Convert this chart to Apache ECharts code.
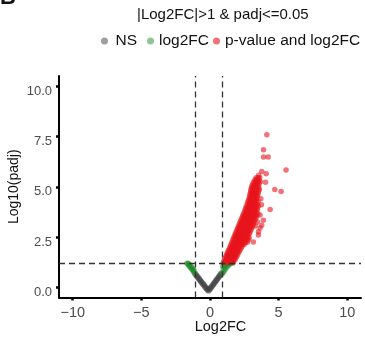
<!DOCTYPE html>
<html>
<head>
<meta charset="utf-8">
<script src="https://cdn.jsdelivr.net/npm/echarts@6/dist/echarts.min.js"></script>
<style>
  html, body { margin: 0; padding: 0; background: #fff; }
  #chart { width: 365px; height: 337px; }
</style>
</head>
<body>
<div id="chart"></div>
<script>
// volcano plot, values
const X_TICKS = [-10, -5, 0, 5, 10];
const Y_TICKS = [0, 2.5, 5, 7.5, 10];
const FC_CUTS = [-1.1, 0.9];
const PADJ_CUT = 1.2;

const NS_POINTS = [
  [-1.08, 0.68], [-1.02, 0.62], [-0.96, 0.57], [-0.9, 0.52], [-0.84, 0.46], [-0.78, 0.41],
  [-0.72, 0.36], [-0.66, 0.3], [-0.6, 0.25], [-0.54, 0.2], [-0.48, 0.14], [-0.42, 0.09],
  [-0.36, 0.04], [-0.3, -0.02], [-0.24, -0.07], [-0.18, -0.12], [-0.12, -0.16], [-0.06, -0.12],
  [0.0, -0.07], [0.06, -0.01], [0.12, 0.04], [0.18, 0.1], [0.24, 0.15], [0.3, 0.21],
  [0.36, 0.26], [0.42, 0.32], [0.48, 0.37], [0.54, 0.43], [0.6, 0.48], [0.66, 0.54],
  [0.72, 0.59], [0.78, 0.65], [0.84, 0.7]
];

const FC_POINTS = [
  [-1.68, 1.2], [-1.62, 1.16], [-1.56, 1.1], [-1.5, 1.05], [-1.44, 1.0], [-1.38, 0.95],
  [-1.32, 0.9], [-1.26, 0.84], [-1.2, 0.78], [-1.14, 0.72], [-1.6, 1.2], [-1.5, 1.15],
  [-1.4, 1.06], [-1.3, 1.0], [-1.22, 0.92], [-1.15, 0.84],
  [0.9, 0.68], [0.98, 0.76], [1.06, 0.84], [1.14, 0.92], [1.22, 1.0], [1.3, 1.07],
  [1.38, 1.13], [1.46, 1.18], [1.56, 1.2], [1.66, 1.2], [0.96, 0.9], [1.04, 1.0],
  [1.1, 1.1], [1.2, 1.18], [1.0, 1.18], [1.3, 1.18], [1.4, 1.2], [0.92, 1.05]
];

const SIG_POINTS = [
  [0.98, 1.25], [1.1, 1.25], [1.22, 1.25], [1.35, 1.25], [1.48, 1.25], [1.6, 1.25], [1.7, 1.25],
  [1.04, 1.35], [1.16, 1.35], [1.28, 1.35], [1.41, 1.35], [1.54, 1.35], [1.67, 1.35], [1.8, 1.35],
  [1.1, 1.45], [1.22, 1.45], [1.35, 1.45], [1.48, 1.45], [1.6, 1.45], [1.75, 1.45], [1.88, 1.45],
  [1.16, 1.55], [1.29, 1.55], [1.42, 1.55], [1.55, 1.55], [1.68, 1.55], [1.82, 1.55], [1.95, 1.55],
  [1.22, 1.65], [1.35, 1.65], [1.48, 1.65], [1.62, 1.65], [1.76, 1.65], [1.9, 1.65], [2.02, 1.65],
  [1.28, 1.75], [1.42, 1.75], [1.55, 1.75], [1.69, 1.75], [1.83, 1.75], [1.97, 1.75], [2.1, 1.75],
  [1.35, 1.85], [1.48, 1.85], [1.62, 1.85], [1.76, 1.85], [1.9, 1.85], [2.05, 1.85], [2.18, 1.85],
  [1.42, 1.95], [1.55, 1.95], [1.69, 1.95], [1.83, 1.95], [1.97, 1.95], [2.12, 1.95], [2.26, 1.95],
  [1.48, 2.05], [1.62, 2.05], [1.76, 2.05], [1.9, 2.05], [2.05, 2.05], [2.2, 2.05], [2.34, 2.05],
  [1.54, 2.15], [1.68, 2.15], [1.82, 2.15], [1.96, 2.15], [2.1, 2.15], [2.24, 2.15], [2.38, 2.15], [2.5, 2.15],
  [1.6, 2.25], [1.74, 2.25], [1.88, 2.25], [2.02, 2.25], [2.16, 2.25], [2.3, 2.25], [2.45, 2.25], [2.58, 2.25], [2.72, 2.25],
  [1.66, 2.35], [1.8, 2.35], [1.94, 2.35], [2.08, 2.35], [2.22, 2.35], [2.36, 2.35], [2.5, 2.35], [2.64, 2.35], [2.78, 2.35],
  [1.72, 2.45], [1.86, 2.45], [2.0, 2.45], [2.14, 2.45], [2.28, 2.45], [2.42, 2.45], [2.56, 2.45], [2.72, 2.45], [2.86, 2.45],
  [1.78, 2.55], [1.92, 2.55], [2.06, 2.55], [2.2, 2.55], [2.34, 2.55], [2.48, 2.55], [2.62, 2.55], [2.78, 2.55],
  [1.84, 2.65], [1.98, 2.65], [2.12, 2.65], [2.26, 2.65], [2.4, 2.65], [2.55, 2.65], [2.7, 2.65], [2.86, 2.65],
  [1.9, 2.75], [2.04, 2.75], [2.18, 2.75], [2.32, 2.75], [2.46, 2.75], [2.6, 2.75], [2.76, 2.75], [2.92, 2.75],
  [1.96, 2.85], [2.1, 2.85], [2.24, 2.85], [2.38, 2.85], [2.52, 2.85], [2.66, 2.85], [2.82, 2.85], [2.98, 2.85],
  [2.02, 2.95], [2.16, 2.95], [2.3, 2.95], [2.44, 2.95], [2.58, 2.95], [2.72, 2.95], [2.88, 2.95], [3.04, 2.95],
  [2.08, 3.05], [2.22, 3.05], [2.36, 3.05], [2.5, 3.05], [2.64, 3.05], [2.8, 3.05], [2.95, 3.05], [3.1, 3.05], [3.3, 3.05],
  [2.14, 3.15], [2.28, 3.15], [2.42, 3.15], [2.56, 3.15], [2.7, 3.15], [2.86, 3.15], [3.0, 3.15], [3.16, 3.15],
  [2.2, 3.25], [2.34, 3.25], [2.48, 3.25], [2.62, 3.25], [2.76, 3.25], [2.9, 3.25], [3.05, 3.25], [3.2, 3.25], [3.45, 3.25],
  [2.26, 3.35], [2.4, 3.35], [2.54, 3.35], [2.68, 3.35], [2.82, 3.35], [2.96, 3.35], [3.1, 3.35], [3.26, 3.35],
  [2.32, 3.45], [2.46, 3.45], [2.6, 3.45], [2.74, 3.45], [2.88, 3.45], [3.02, 3.45], [3.18, 3.45], [3.35, 3.45],
  [2.38, 3.55], [2.52, 3.55], [2.66, 3.55], [2.8, 3.55], [2.94, 3.55], [3.08, 3.55], [3.24, 3.55], [3.4, 3.55],
  [2.44, 3.65], [2.58, 3.65], [2.72, 3.65], [2.86, 3.65], [3.0, 3.65], [3.14, 3.65], [3.3, 3.65], [3.48, 3.65],
  [2.5, 3.75], [2.64, 3.75], [2.78, 3.75], [2.92, 3.75], [3.06, 3.75], [3.2, 3.75], [3.36, 3.75],
  [2.56, 3.85], [2.7, 3.85], [2.84, 3.85], [2.98, 3.85], [3.12, 3.85], [3.28, 3.85], [3.45, 3.85],
  [2.6, 3.95], [2.74, 3.95], [2.88, 3.95], [3.02, 3.95], [3.16, 3.95], [3.3, 3.95], [3.45, 3.95],
  [2.66, 4.05], [2.8, 4.05], [2.94, 4.05], [3.08, 4.05], [3.22, 4.05], [3.38, 4.05], [3.52, 4.05],
  [2.72, 4.15], [2.86, 4.15], [3.0, 4.15], [3.14, 4.15], [3.28, 4.15], [3.44, 4.15],
  [2.76, 4.25], [2.9, 4.25], [3.04, 4.25], [3.18, 4.25], [3.32, 4.25], [3.5, 4.25],
  [2.82, 4.35], [2.96, 4.35], [3.1, 4.35], [3.24, 4.35], [3.38, 4.35],
  [2.86, 4.45], [3.0, 4.45], [3.14, 4.45], [3.28, 4.45], [3.42, 4.45],
  [2.9, 4.55], [3.04, 4.55], [3.18, 4.55], [3.32, 4.55], [3.46, 4.55],
  [2.92, 4.65], [3.06, 4.65], [3.2, 4.65], [3.34, 4.65], [3.5, 4.65],
  [2.96, 4.75], [3.1, 4.75], [3.24, 4.75], [3.38, 4.75], [3.52, 4.75],
  [2.98, 4.85], [3.12, 4.85], [3.26, 4.85], [3.4, 4.85], [3.6, 4.85],
  [3.02, 4.95], [3.16, 4.95], [3.3, 4.95], [3.44, 4.95], [3.56, 4.95],
  [3.05, 5.05], [3.2, 5.05], [3.34, 5.05], [3.5, 5.05],
  [3.12, 5.15], [3.27, 5.15], [3.42, 5.15], [3.58, 5.15],
  [3.2, 5.25], [3.34, 5.25], [3.5, 5.25], [3.66, 5.25],
  [3.28, 5.35], [3.42, 5.35], [3.56, 5.35],
  [3.36, 5.45], [3.5, 5.45], [3.62, 5.45],
  // stragglers
  [4.14, 7.58], [3.9, 6.84], [3.9, 6.48], [4.24, 6.48], [5.54, 5.83], [3.77, 5.76],
  [4.09, 5.65], [3.55, 5.57], [4.72, 4.86], [5.18, 4.77], [4.04, 5.22], [4.38, 3.87],
  [3.89, 3.34], [3.77, 3.09], [3.53, 2.76], [3.16, 2.26], [3.7, 4.4], [3.75, 4.1],
  [3.65, 3.6], [3.65, 2.95], [3.53, 2.6]
];

const SERIES = [
  { name: 'NS', data: NS_POINTS, color: '#3f3f3f', size: 6, alpha: 0.5 },
  { name: 'log2FC', data: FC_POINTS, color: '#1f8c2a', size: 5.5, alpha: 0.5 },
  { name: 'p-value and log2FC', data: SIG_POINTS, color: '#e8141c', size: 5.5, alpha: 0.6 }
];

const FONT = '"Liberation Sans", Arial, sans-serif';
const fmtMinus = (v) => (v < 0 ? '\u2212' + Math.abs(v) : String(v));

const chart = echarts.init(document.getElementById('chart'));

const legendAt = (name, left, iconW) => ({
  data: [name],
  left: left,
  top: 33,
  padding: 0,
  icon: 'circle',
  itemWidth: iconW,
  itemHeight: 7,
  selectedMode: false,
  textStyle: { fontFamily: FONT, fontSize: 15.5, color: '#111' }
});

chart.setOption({
  animation: false,
  backgroundColor: '#fff',
  graphic: [
    { type: 'text', left: 0, top: -13, style: { text: 'B', font: 'bold 22px ' + FONT, fill: '#111' } }
  ],
  title: {
    text: '|Log2FC|>1 & padj<=0.05',
    left: 137,
    top: 7,
    padding: 0,
    textStyle: { fontFamily: FONT, fontSize: 15, fontWeight: 'normal', color: '#111' }
  },
  legend: [
    legendAt('NS', 101, 12),
    legendAt('log2FC', 147, 7),
    legendAt('p-value and log2FC', 213, 7)
  ],
  grid: { left: 59, right: 4, top: 76, bottom: 39.5, outerBoundsMode: 'none', containLabel: false },
  xAxis: {
    type: 'value',
    min: -11,
    max: 11,
    name: 'Log2FC',
    nameLocation: 'middle',
    nameGap: 22,
    nameMoveOverlap: false,
    nameTextStyle: { fontFamily: FONT, fontSize: 14.5, color: '#111', padding: [0, 0, 0, 21] },
    axisLine: { show: true, onZero: false, lineStyle: { color: '#000', width: 2 } },
    axisTick: { show: true, customValues: X_TICKS, length: 3, lineStyle: { color: '#000', width: 2.5 } },
    axisLabel: { customValues: X_TICKS, margin: 8, fontFamily: FONT, fontSize: 14.5, color: '#4d4d4d', formatter: fmtMinus },
    splitLine: { show: false }
  },
  yAxis: {
    type: 'value',
    min: -0.5,
    max: 10.5,
    name: 'Log10(padj)',
    nameLocation: 'middle',
    nameGap: 38,
    nameMoveOverlap: false,
    nameTextStyle: { fontFamily: FONT, fontSize: 14, color: '#111' },
    axisLine: { show: true, onZero: false, lineStyle: { color: '#000', width: 2 } },
    axisTick: { show: true, customValues: Y_TICKS, length: 3, lineStyle: { color: '#000', width: 2.5 } },
    axisLabel: {
      customValues: Y_TICKS, margin: 7, fontFamily: FONT, fontSize: 13, color: '#4d4d4d',
      verticalAlign: 'top', lineHeight: 10,
      formatter: (v) => v.toFixed(1)
    },
    splitLine: { show: false }
  },
  series: SERIES.map((s, i) => ({
    name: s.name,
    type: 'scatter',
    data: s.data,
    symbol: 'circle',
    symbolSize: s.size,
    itemStyle: { color: s.color, opacity: s.alpha },
    emphasis: { disabled: true },
    markLine: i === SERIES.length - 1 ? {
      silent: true,
      symbol: ['none', 'none'],
      label: { show: false },
      lineStyle: { color: '#333', width: 1.3, type: [6, 4] },
      data: [
        { xAxis: FC_CUTS[0] },
        { xAxis: FC_CUTS[1] },
        { yAxis: PADJ_CUT }
      ]
    } : undefined
  }))
});
</script>
</body>
</html>
